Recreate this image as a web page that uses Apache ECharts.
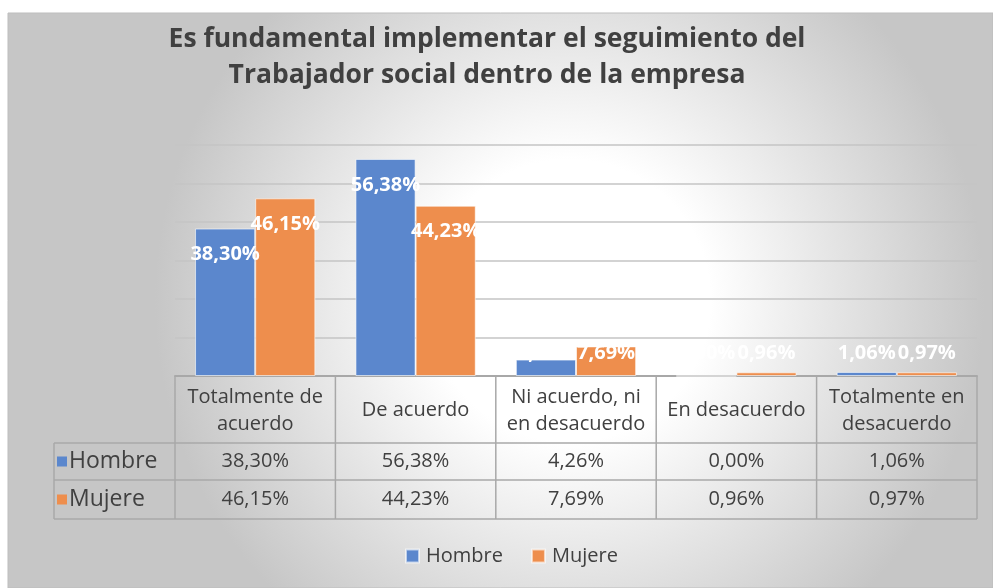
<!DOCTYPE html>
<html>
<head>
<meta charset="utf-8">
<script src="https://cdn.jsdelivr.net/npm/echarts@6/dist/echarts.min.js"></script>
<style>
  html, body { margin: 0; padding: 0; background: #fff; }
  #chart { width: 993px; height: 588px; }
</style>
</head>
<body>
<div id="chart"></div>
<script>
// data
const categories = ['Totalmente de\nacuerdo', 'De acuerdo', 'Ni acuerdo, ni\nen desacuerdo', 'En desacuerdo', 'Totalmente en\ndesacuerdo'];
const seriesNames = ['Hombre', 'Mujere'];
const hombre = [38.30, 56.38, 4.26, 0.00, 1.06];
const mujere = [46.15, 44.23, 7.69, 0.96, 0.97];
const colors = ['#5b87cd', '#ee8e4d'];

const FONT = "'Open Sans', 'Noto Sans', sans-serif";
const TEXT = '#404040';
const LINE = '#a8a8a8';

// layout of the plot and the data table under it
const plot = { left: 175, right: 977, top: 145, bottom: 376 };
const tableLeft = 54;
const rowY = [376, 443, 480, 519];

const pct = v => v.toFixed(2).replace('.', ',') + '%';

function barData(values) {
    return values.map(v => ({
        value: v,
        label: v >= 10
            ? { position: 'insideTop', distance: 16 }
            : { position: 'insideBottom', distance: 13 }
    }));
}

function buildTable() {
    const els = [];
    const colW = (plot.right - plot.left) / categories.length;
    const line = (x1, y1, x2, y2) => ({
        type: 'line', silent: true,
        shape: { x1, y1, x2, y2 },
        style: { stroke: LINE, lineWidth: 1.5 }
    });

    for (let i = 0; i <= categories.length; i++) {
        const x = plot.left + i * colW;
        els.push(line(x, rowY[0], x, rowY[3]));
    }
    els.push(line(tableLeft, rowY[1], tableLeft, rowY[3]));
    for (let r = 1; r < rowY.length; r++) {
        els.push(line(tableLeft, rowY[r], plot.right, rowY[r]));
    }

    categories.forEach((c, i) => {
        els.push({
            type: 'text', silent: true,
            x: plot.left + (i + 0.5) * colW, y: (rowY[0] + rowY[1]) / 2 + 1,
            style: {
                text: c, fill: TEXT, font: '20px ' + FONT, lineHeight: 27,
                align: 'center', verticalAlign: 'middle'
            }
        });
    });

    [hombre, mujere].forEach((vals, s) => {
        const cy = (rowY[s + 1] + rowY[s + 2]) / 2;
        els.push({
            type: 'rect', silent: true,
            shape: { x: 57, y: cy - 5, width: 10, height: 10 },
            style: { fill: colors[s] }
        });
        els.push({
            type: 'text', silent: true, x: 69, y: cy,
            style: {
                text: seriesNames[s], fill: TEXT, font: '23px ' + FONT,
                align: 'left', verticalAlign: 'middle'
            }
        });
        vals.forEach((v, i) => {
            els.push({
                type: 'text', silent: true,
                x: plot.left + (i + 0.5) * colW, y: cy,
                style: {
                    text: pct(v), fill: TEXT, font: '20px ' + FONT,
                    align: 'center', verticalAlign: 'middle'
                }
            });
        });
    });
    return els;
}

const background = [
    {
        type: 'rect', silent: true, z: -100,
        shape: { x: 8, y: 13, width: 985, height: 575 },
        style: {
            fill: new echarts.graphic.RadialGradient(0.57, 0.5, 0.72, [
                { offset: 0, color: '#ffffff' },
                { offset: 0.34, color: '#ffffff' },
                { offset: 1, color: '#c6c6c6' }
            ]),
            stroke: '#bdbdbd', lineWidth: 1
        }
    }
];

const chart = echarts.init(document.getElementById('chart'), null, { renderer: 'canvas' });

const option = {
    animation: false,
    color: colors,
    title: {
        text: 'Es fundamental implementar el seguimiento del\nTrabajador social dentro de la empresa',
        left: 487,
        top: 21,
        padding: 0,
        textAlign: 'center',
        textStyle: {
            fontFamily: FONT, fontSize: 26.5, fontWeight: 'bold',
            color: TEXT, lineHeight: 36
        }
    },
    legend: {
        data: seriesNames,
        left: 400,
        top: 541,
        icon: 'rect',
        itemWidth: 13,
        itemHeight: 13,
        itemGap: 28,
        textStyle: { fontFamily: FONT, fontSize: 20, color: TEXT, padding: [0, 0, 0, 2] }
    },
    grid: {
        left: plot.left,
        right: 993 - plot.right,
        top: plot.top,
        bottom: 588 - plot.bottom
    },
    xAxis: {
        type: 'category',
        data: categories,
        axisLine: { lineStyle: { color: LINE, width: 2 } },
        axisTick: { show: false },
        axisLabel: { show: false }
    },
    yAxis: {
        type: 'value',
        min: 0,
        max: 60,
        interval: 10,
        axisLabel: { show: false },
        axisLine: { show: false },
        axisTick: { show: false },
        splitLine: { lineStyle: { color: '#c4c4c4', width: 1.5 } }
    },
    series: [hombre, mujere].map((vals, s) => ({
        name: seriesNames[s],
        type: 'bar',
        data: barData(vals),
        barGap: '0%',
        barCategoryGap: '25%',
        itemStyle: { borderColor: 'rgba(255,255,255,0.6)', borderWidth: 1 },
        label: {
            show: true,
            color: '#ffffff',
            fontFamily: FONT,
            fontSize: 20,
            fontWeight: 'bold',
            formatter: p => pct(p.value)
        }
    })),
    graphic: background.concat(buildTable())
};

chart.setOption(option);
</script>
</body>
</html>
